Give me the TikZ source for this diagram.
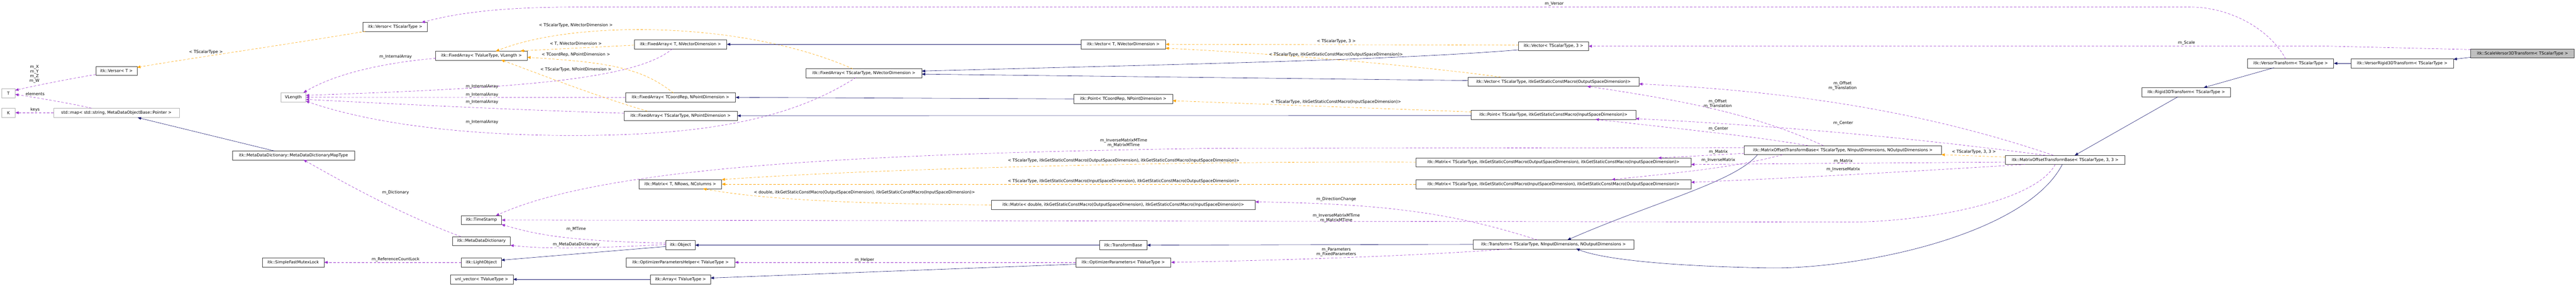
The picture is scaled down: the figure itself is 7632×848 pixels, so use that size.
\documentclass[tikz,border=0pt]{standalone}
\usepackage{fontspec}
\setmainfont{DejaVu Sans}
\usetikzlibrary{arrows.meta,calc}
\definecolor{inhc}{HTML}{191970}
\definecolor{usec}{HTML}{9A32CD}
\definecolor{tplc}{HTML}{FFA500}
\begin{document}
\begin{tikzpicture}[x=1pt,y=-1pt,
  cls/.style={draw=black!75,fill=white,line width=0.9pt,minimum height=27pt,inner xsep=1pt,inner ysep=0pt,font=\fontsize{12}{14}\selectfont},
  ext/.style={cls,draw=black!30},
  cur/.style={cls,fill=black!25},
  lbl/.style={font=\fontsize{12}{14}\selectfont,inner sep=0pt,align=center},
  inh/.style={draw=inhc,line width=0.9pt,-{Triangle[length=10pt,width=8pt]}},
  usee/.style={draw=usec,line width=0.9pt,dash pattern=on 7pt off 5pt,-{Triangle[length=10pt,width=8pt]}},
  tpl/.style={draw=tplc,line width=0.9pt,dash pattern=on 7pt off 5pt,-{Triangle[length=10pt,width=8pt]}}]
\useasboundingbox (0,0) rectangle (7632,848);
% nodes
\node[ext,minimum width=40pt] (T) at (25,276.5) {T};
\node[ext,minimum width=40pt] (K) at (25,334.5) {K};
\node[cls,minimum width=122pt] (versorT) at (345,210.5) {itk::Versor< T >};
\node[ext,minimum width=372pt] (stdmap) at (345,334.5) {std::map< std::string, MetaDataObjectBase::Pointer >};
\node[ext,minimum width=74pt] (vlength) at (869,288.5) {VLength};
\node[cls,minimum width=361pt] (mapType) at (869.5,461) {itk::MetaDataDictionary::MetaDataDictionaryMapType};
\node[cls,minimum width=183pt] (mutex) at (868.5,778.5) {itk::SimpleFastMutexLock};
\node[cls,minimum width=191pt] (versorTS) at (1170.5,80) {itk::Versor< TScalarType >};
\node[cls,minimum width=271pt] (faTV) at (1426.5,165) {itk::FixedArray< TValueType, VLength >};
\node[cls,minimum width=274pt] (faT) at (2016,131.5) {itk::FixedArray< T, NVectorDimension >};
\node[cls,minimum width=326pt] (faTCR) at (2016,289) {itk::FixedArray< TCoordRep, NPointDimension >};
\node[cls,minimum width=335pt] (faTSP) at (2016.5,343.5) {itk::FixedArray< TScalarType, NPointDimension >};
\node[cls,minimum width=119pt] (timestamp) at (1426.5,653) {itk::TimeStamp};
\node[cls,minimum width=171pt] (mdd) at (1426.5,715.5) {itk::MetaDataDictionary};
\node[cls,minimum width=118pt] (lightobj) at (1426,778.5) {itk::LightObject};
\node[cls,minimum width=186pt] (vnl) at (1427,829) {vnl\_vector< TValueType >};
\node[cls,minimum width=245pt] (matrixT) at (2015.5,546.5) {itk::Matrix< T, NRows, NColumns >};
\node[cls,minimum width=86pt] (object) at (2016,727.5) {itk::Object};
\node[cls,minimum width=322pt] (opthelper) at (2016,778.5) {itk::OptimizerParametersHelper< TValueType >};
\node[cls,minimum width=178pt] (array) at (2016,829) {itk::Array< TValueType >};
\node[cls,minimum width=343pt] (faTSV) at (2559.5,217) {itk::FixedArray< TScalarType, NVectorDimension >};
\node[cls,minimum width=782pt] (matrixD) at (3328,608) {itk::Matrix< double, itkGetStaticConstMacro(OutputSpaceDimension), itkGetStaticConstMacro(InputSpaceDimension)>};
\node[cls,minimum width=250pt] (vectorT) at (3328,131.5) {itk::Vector< T, NVectorDimension >};
\node[cls,minimum width=292pt] (pointT) at (3328,293.5) {itk::Point< TCoordRep, NPointDimension >};
\node[cls,minimum width=140pt] (tbase) at (3328,727.5) {itk::TransformBase};
\node[cls,minimum width=282pt] (optparams) at (3328,778.5) {itk::OptimizerParameters< TValueType >};
\node[cls,minimum width=207pt] (vector3) at (4602.5,137) {itk::Vector< TScalarType, 3 >};
\node[cls,minimum width=507pt] (vectorOut) at (4602.5,242.5) {itk::Vector< TScalarType, itkGetStaticConstMacro(OutputSpaceDimension)>};
\node[cls,minimum width=487pt] (pointIn) at (4602.5,341) {itk::Point< TScalarType, itkGetStaticConstMacro(InputSpaceDimension)>};
\node[cls,minimum width=815pt] (matOI) at (4602.5,482) {itk::Matrix< TScalarType, itkGetStaticConstMacro(OutputSpaceDimension), itkGetStaticConstMacro(InputSpaceDimension)>};
\node[cls,minimum width=815pt] (matIO) at (4602.5,546.5) {itk::Matrix< TScalarType, itkGetStaticConstMacro(InputSpaceDimension), itkGetStaticConstMacro(OutputSpaceDimension)>};
\node[cls,minimum width=475pt] (transform) at (4602.5,725) {itk::Transform< TScalarType, NInputDimensions, NOutputDimensions >};
\node[cls,minimum width=584pt] (motbN) at (5460,445.5) {itk::MatrixOffsetTransformBase< TScalarType, NInputDimensions, NOutputDimensions >};
\node[cls,minimum width=355pt] (motb33) at (6118.5,474.5) {itk::MatrixOffsetTransformBase< TScalarType, 3, 3 >};
\node[cls,minimum width=262pt] (rigid) at (6477,273.5) {itk::Rigid3DTransform< TScalarType >};
\node[cls,minimum width=255pt] (versorTr) at (6786.5,188) {itk::VersorTransform< TScalarType >};
\node[cls,minimum width=304pt] (versorRigid) at (7117,188) {itk::VersorRigid3DTransform< TScalarType >};
\node[cur,minimum width=307pt] (scale) at (7473.5,158.5) {itk::ScaleVersor3DTransform< TScalarType >};
% edges
\draw[inh] ($(mapType)+(-56.5,-13)$) -- ($(stdmap)+(63,14.5)$);
\draw[tpl] ($(versorTS)+(-87.5,13)$) .. controls (800,140) and (550,175) .. ($(versorT)+(61,-10.5)$);
\draw[usee] ($(versorT)+(-61,10.5)$) .. controls (200,235) and (100,255) .. ($(T)+(20,-8.5)$);
\draw[usee] ($(stdmap)+(-74,-13.5)$) .. controls (200,305) and (120,292) .. ($(T)+(20,3.5)$);
\draw[usee] (stdmap.west) -- (K.east);
\draw[usee] ($(versorTr)+(-14.5,-13)$) .. controls (6720,80) and (6600,21) .. (6490,21) -- (1700,21) .. controls (1450,21) and (1330,45) .. ($(versorTS)+(78.5,-13)$);
\draw[usee] ($(scale)+(-153.5,-11.5)$) -- (6900,137) -- (vector3.east);
\draw[usee] ($(faTV)+(-135.5,8)$) .. controls (1150,185) and (1000,215) .. ($(vlength)+(30,-13.5)$);
\draw[usee] ($(faT)+(-24,13.5)$) .. controls (1880,240) and (1500,262) .. ($(vlength)+(37,-5.5)$);
\draw[usee] (faTCR.west) -- (vlength.east);
\draw[usee] ($(faTSP)+(-167.5,-7.5)$) .. controls (1500,325) and (1200,310) .. ($(vlength)+(37,6.5)$);
\draw[usee] ($(faTSV)+(-23.5,13)$) .. controls (2350,350) and (2100,402) .. (1700,402) .. controls (1300,402) and (1050,350) .. ($(vlength)+(37,11.5)$);
\draw[tpl] ($(faT)+(-137,2.5)$) -- ($(faTV)+(115.5,-14)$);
\draw[tpl] ($(faTSV)+(-33.5,-13)$) .. controls (2200,60) and (1700,60) .. ($(faTV)+(42.5,-13)$);
\draw[tpl] ($(faTCR)+(-21,-13)$) .. controls (1900,200) and (1800,185) .. ($(faTV)+(135.5,5)$);
\draw[tpl] ($(faTSP)+(-98.5,-13.5)$) .. controls (1750,280) and (1600,220) .. ($(faTV)+(58.5,13)$);
\draw[inh] (vectorT.west) -- (faT.east);
\draw[tpl] ($(vector3)+(-103.5,-3)$) -- (vectorT.east);
\draw[tpl] ($(vectorOut)+(-155.5,-13.5)$) .. controls (4200,195) and (3800,160) .. ($(vectorT)+(125,11.5)$);
\draw[inh] ($(vector3)+(-103.5,11)$) .. controls (4100,180) and (3500,190) .. ($(faTSV)+(171.5,-6)$);
\draw[inh] ($(vectorOut)+(-253.5,-3.5)$) -- ($(faTSV)+(171.5,3)$);
\draw[inh] (pointT.west) -- (faTCR.east);
\draw[tpl] ($(pointIn)+(-243.5,-9)$) -- ($(pointT)+(146,5.5)$);
\draw[inh] ($(pointIn)+(-243.5,2)$) -- (faTSP.east);
\draw[tpl] ($(matOI)+(-407.5,-1)$) .. controls (3500,478) and (2600,500) .. ($(matrixT)+(122.5,-13.5)$);
\draw[tpl] (matIO.west) -- (matrixT.east);
\draw[tpl] (matrixD.west) .. controls (2500,605) and (2250,590) .. ($(matrixT)+(67.5,13.5)$);
\draw[usee] ($(transform)+(-47.5,-13)$) .. controls (4300,630) and (4100,605) .. ($(matrixD)+(391,-9)$);
\draw[usee] ($(motbN)+(-292,-7.5)$) -- (3600,440) .. controls (2600,455) and (1800,490) .. ($(timestamp)+(42.5,-13)$);
\draw[usee] ($(motb33)+(-29.5,13.5)$) .. controls (6030,600) and (5700,659) .. (5478,659) -- (timestamp.east);
\draw[usee] ($(object)+(-43,-6)$) .. controls (1700,715) and (1600,700) .. ($(timestamp)+(59.5,13)$);
\draw[usee] ($(object)+(-43,-2)$) .. controls (1700,740) and (1600,737) .. ($(mdd)+(85.5,12.5)$);
\draw[inh] ($(object)+(-43,4)$) -- ($(lightobj)+(59,-6.5)$);
\draw[usee] ($(mdd)+(-61.5,-13.5)$) .. controls (1200,640) and (1050,560) .. ($(mapType)+(29.5,13)$);
\draw[usee] (lightobj.west) -- (mutex.east);
\draw[inh] (array.west) -- (vnl.east);
\draw[usee] (optparams.west) -- (opthelper.east);
\draw[inh] ($(optparams)+(-141,5.5)$) -- ($(array)+(89,-4)$);
\draw[inh] (tbase.west) -- (object.east);
\draw[inh] (transform.west) -- (tbase.east);
\draw[usee] ($(transform)+(-124.5,13)$) .. controls (4200,760) and (3800,772) .. (optparams.east);
\draw[inh] ($(motbN)+(-253,13.5)$) .. controls (5140,540) and (4900,600) .. ($(transform)+(41.5,-13)$);
\draw[inh] ($(motb33)+(-8.5,13.5)$) .. controls (6000,700) and (5500,800) .. (5236,795) .. controls (4950,790) and (4750,770) .. ($(transform)+(67.5,13)$);
\draw[tpl] ($(motb33)+(-177.5,-8.5)$) -- ($(motbN)+(292,13.5)$);
\draw[usee] ($(motbN)+(-292,9.5)$) -- ($(matOI)+(309.5,-13)$);
\draw[usee] ($(motbN)+(-179,13.5)$) .. controls (5150,495) and (5000,510) .. ($(matIO)+(172.5,-13.5)$);
\draw[usee] ($(motb33)+(-177.5,6.5)$) -- ($(matOI)+(407.5,6)$);
\draw[usee] ($(motb33)+(-118.5,13.5)$) .. controls (5800,500) and (5400,525) .. ($(matIO)+(407.5,-5.5)$);
\draw[usee] ($(motb33)+(-35,-13.5)$) .. controls (5700,330) and (5300,270) .. ($(vectorOut)+(253.5,6.5)$);
\draw[usee] ($(motbN)+(-58,-13.5)$) .. controls (5200,340) and (5000,300) .. ($(vectorOut)+(99.5,13.5)$);
\draw[usee] ($(motb33)+(-58,-13.5)$) .. controls (5600,400) and (5200,370) .. ($(pointIn)+(243.5,11)$);
\draw[usee] ($(motbN)+(-103,-13.5)$) .. controls (5200,405) and (5000,385) .. ($(pointIn)+(124.5,13)$);
\draw[inh] ($(rigid)+(-24,13.5)$) -- ($(motb33)+(28.5,-13.5)$);
\draw[inh] ($(versorTr)+(-49.5,13)$) -- ($(rigid)+(52,-13.5)$);
\draw[inh] (versorRigid.west) -- (versorTr.east);
\draw[inh] ($(scale)+(-153.5,11.5)$) -- ($(versorRigid)+(152,-12)$);
% labels
\node[lbl] (lxyzw) at (102,220) {m\_X\\m\_Y\\m\_Z\\m\_W};
\node[lbl] (lelem) at (104,278) {elements};
\node[lbl] (lkeys) at (104,326) {keys};
\node[lbl] (l1) at (610,154) {< TScalarType >};
\node[lbl] (l2) at (4605,12) {m\_Versor};
\node[lbl] (l3) at (6478,128) {m\_Scale};
\node[lbl] (l4) at (1172,168) {m\_InternalArray};
\node[lbl] (l5) at (1428,257) {m\_InternalArray};
\node[lbl] (l6) at (1428,281) {m\_InternalArray};
\node[lbl] (l7) at (1428,303) {m\_InternalArray};
\node[lbl] (l8) at (1428,363) {m\_InternalArray};
\node[lbl] (l9) at (1706,76) {< TScalarType, NVectorDimension >};
\node[lbl] (l10) at (1706,129) {< T, NVectorDimension >};
\node[lbl] (l11) at (1706,163) {< TCoordRep, NPointDimension >};
\node[lbl] (l12) at (1706,207) {< TScalarType, NPointDimension >};
\node[lbl] (l13) at (1172,572) {m\_Dictionary};
\node[lbl] (l14) at (1707,680) {m\_MTime};
\node[lbl] (l15) at (1707,726) {m\_MetaDataDictionary};
\node[lbl] (l16) at (1172,770) {m\_ReferenceCountLock};
\node[lbl] (l17) at (2561,572) {< double, itkGetStaticConstMacro(OutputSpaceDimension), itkGetStaticConstMacro(InputSpaceDimension)>};
\node[lbl] (l18) at (2561,771) {m\_Helper};
\node[lbl] (l19) at (3959,123) {< TScalarType, 3 >};
\node[lbl] (l20) at (3958,163) {< TScalarType, itkGetStaticConstMacro(OutputSpaceDimension)>};
\node[lbl] (l21) at (3958,302) {< TScalarType, itkGetStaticConstMacro(InputSpaceDimension)>};
\node[lbl] (l22) at (3329,424) {m\_InverseMatrixMTime\\m\_MatrixMTime};
\node[lbl] (l23) at (3329,476) {< TScalarType, itkGetStaticConstMacro(OutputSpaceDimension), itkGetStaticConstMacro(InputSpaceDimension)>};
\node[lbl] (l24) at (3329,538) {< TScalarType, itkGetStaticConstMacro(InputSpaceDimension), itkGetStaticConstMacro(OutputSpaceDimension)>};
\node[lbl] (l25) at (3959,592) {m\_DirectionChange};
\node[lbl] (l26) at (3959,647) {m\_InverseMatrixMTime\\m\_MatrixMTime};
\node[lbl] (l27) at (3959,748) {m\_Parameters\\m\_FixedParameters};
\node[lbl] (l28) at (5459,255) {m\_Offset\\m\_Translation};
\node[lbl] (l29) at (5089,308) {m\_Offset\\m\_Translation};
\node[lbl] (l30) at (5461,365) {m\_Center};
\node[lbl] (l31) at (5091,383) {m\_Center};
\node[lbl] (l32) at (5091,451) {m\_Matrix};
\node[lbl] (l33) at (5091,476) {m\_InverseMatrix};
\node[lbl] (l34) at (5461,479) {m\_Matrix};
\node[lbl] (l35) at (5461,503) {m\_InverseMatrix};
\node[lbl] (l36) at (5848,451) {< TScalarType, 3, 3 >};
\end{tikzpicture}
\end{document}
